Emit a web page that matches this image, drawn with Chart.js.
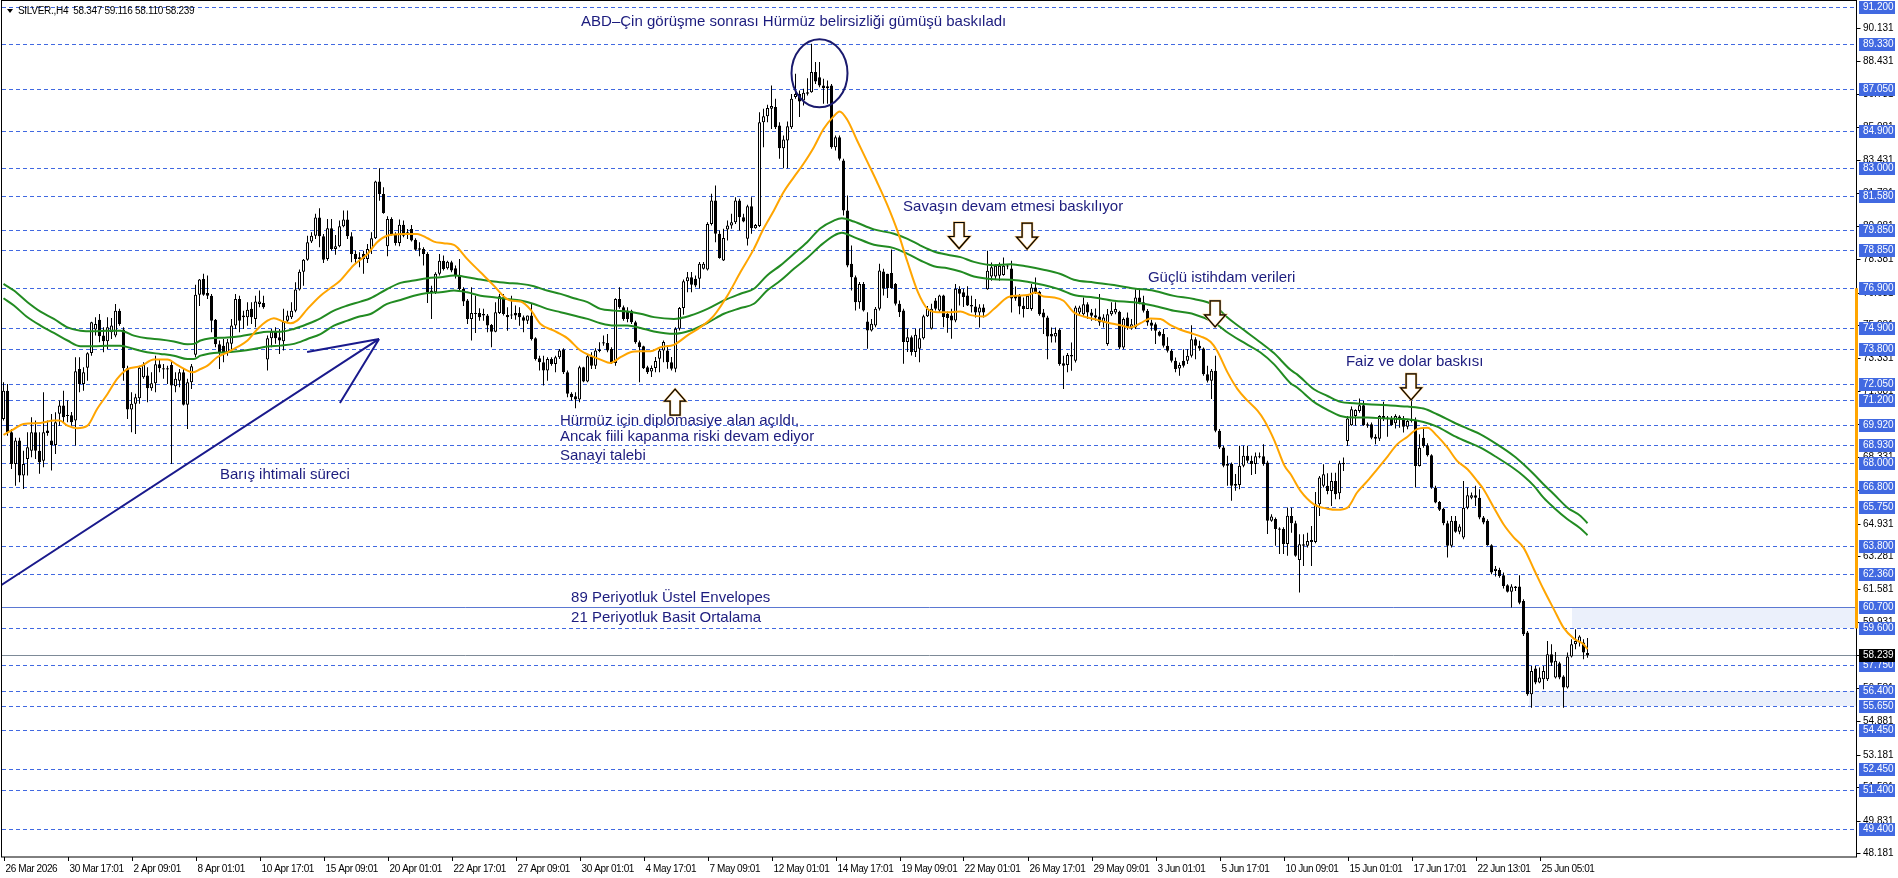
<!DOCTYPE html>
<html>
<head>
<meta charset="utf-8">
<script src="https://cdn.jsdelivr.net/npm/chart.js@4.4.1/dist/chart.umd.min.js"></script>
<style>
  html, body { margin: 0; padding: 0; background: #fff; }
  #wrap { position: relative; width: 1898px; height: 878px; }
</style>
</head>
<body>
<div id="wrap"><canvas id="chart"></canvas></div>
<script>
// SILVER H4 - candles with SMA 21 and EMA 89 envelopes, marked levels and notes

// time axis labels, one every 16 bars
const timeLabels = ['26 Mar 2026', '30 Mar 17:01', '2 Apr 09:01', '8 Apr 01:01', '10 Apr 17:01',
    '15 Apr 09:01', '20 Apr 01:01', '22 Apr 17:01', '27 Apr 09:01', '30 Apr 01:01', '4 May 17:01',
    '7 May 09:01', '12 May 01:01', '14 May 17:01', '19 May 09:01', '22 May 01:01', '26 May 17:01',
    '29 May 09:01', '3 Jun 01:01', '5 Jun 17:01', '10 Jun 09:01', '15 Jun 01:01', '17 Jun 17:01',
    '22 Jun 13:01', '25 Jun 05:01'];

// open, high, low, close per H4 bar
const candles = [
    [70.25,72.12,70.17,71.69],[71.69,72.03,69.4,69.57],[69.57,69.74,67.71,67.96],[67.96,69.3,66.86,69.15],
    [69.15,69.3,67.03,67.37],[67.37,68.64,66.69,67.96],[68.22,69.57,67.37,68.81],[68.64,70.34,68.3,69.57],
    [69.57,70.17,68.22,68.64],[68.64,69.57,67.46,68.05],[68.13,71.61,67.8,69.57],[69.66,70.17,69.4,69.54],
    [69.15,70.5,67.63,68.93],[68.93,70.59,68.47,70.08],[70.51,71.19,69.91,70.93],[70.93,71.69,70.08,70.34],
    [70.44,71.19,70.08,70.4],[70.44,70.6,69.9,70.08],[70.17,73.39,68.9,72.68],[72.79,73.39,71.61,72.03],
    [72.03,72.88,71.69,72.62],[72.86,73.64,72.2,73.59],[73.61,75.2,73.47,75.17],[74.8,75.42,74.49,75.08],
    [75.29,75.59,74.15,74.46],[74.49,74.91,73.64,74.2],[74.2,75.42,73.81,74.91],[74.66,75.39,74.32,75.0],
    [74.49,76.1,74.4,75.76],[75.76,75.85,74.99,75.08],[74.8,74.91,72.2,72.83],[72.83,72.96,70.25,70.73],
    [70.73,71.61,69.57,71.02],[71.02,71.53,69.49,71.36],[71.3,72.96,71.02,72.86],[72.37,73.13,72.29,72.99],
    [72.46,72.88,71.1,71.81],[71.81,72.62,71.69,72.07],[72.07,73.47,71.61,73.03],[73.03,73.3,72.62,72.83],
    [72.76,73.05,72.29,72.83],[72.83,72.96,72.03,72.76],[73.0,73.22,67.96,71.95],[71.92,72.62,71.61,72.29],
    [72.2,72.79,71.86,72.62],[72.62,72.79,70.93,70.98],[70.98,72.29,69.74,72.12],[72.12,73.05,71.78,72.93],
    [73.51,77.08,73.39,76.57],[76.57,77.37,76.0,77.34],[77.37,77.63,76.52,76.57],[76.66,77.54,76.35,76.52],
    [76.52,76.61,74.66,75.25],[75.29,75.34,73.9,74.05],[74.05,74.24,72.79,73.64],[73.98,74.32,73.13,73.64],
    [73.64,74.32,73.47,74.15],[74.07,75.34,73.64,75.0],[75.0,76.61,74.83,76.35],[76.35,76.52,74.66,75.25],
    [75.42,75.76,74.83,75.51],[75.42,76.19,74.99,75.8],[75.85,76.19,75.08,75.42],[75.34,76.52,74.91,76.22],
    [76.1,76.78,75.93,76.22],[76.15,76.52,75.85,75.93],[73.27,74.49,72.71,74.35],[74.35,74.83,73.9,74.69],
    [74.69,74.91,74.07,74.35],[74.4,74.83,73.56,74.24],[74.2,75.85,73.73,75.2],[75.25,75.76,75.17,75.51],
    [75.42,76.19,75.34,75.76],[75.76,77.2,75.68,76.83],[76.83,77.85,76.78,77.74],[77.74,78.39,77.03,78.35],
    [78.35,79.57,78.3,79.24],[79.27,79.74,79.2,79.57],[79.57,80.68,79.4,80.5],[80.5,80.96,78.98,79.54],
    [79.54,79.66,78.18,78.35],[78.39,80.42,78.3,79.95],[79.95,80.42,78.81,78.9],[78.9,79.6,78.6,79.03],
    [79.03,80.34,78.98,80.05],[80.05,80.85,80.0,80.39],[80.39,80.85,79.4,79.54],[79.54,79.74,78.22,78.64],
    [78.64,78.81,78.18,78.39],[78.47,78.73,77.96,78.39],[78.64,78.81,77.63,78.39],[78.39,79.15,78.18,78.9],
    [78.9,79.74,78.64,79.44],[79.44,82.37,79.4,82.32],[82.32,83.0,81.35,81.69],[81.69,82.03,80.68,80.73],
    [79.03,80.56,78.52,80.42],[80.42,80.51,79.57,79.61],[79.61,79.74,79.07,79.2],[79.2,80.39,79.03,80.13],
    [80.13,80.34,79.49,79.57],[79.74,79.91,79.4,79.66],[79.91,80.12,79.27,79.32],[79.37,79.44,78.81,78.86],
    [78.93,79.24,78.52,78.86],[78.9,78.98,78.05,78.64],[78.64,78.73,76.15,76.69],[76.78,77.03,75.34,76.66],
    [76.69,77.71,76.61,77.63],[77.63,78.64,77.54,78.3],[78.3,78.56,77.8,77.88],[77.91,78.3,77.85,78.25],
    [78.22,78.3,77.71,77.8],[77.91,78.05,77.4,77.54],[77.54,78.39,76.78,76.86],[76.86,76.95,76.0,76.22],
    [76.27,76.35,75.08,75.34],[75.34,76.95,74.24,75.64],[75.64,76.52,74.62,75.59],[75.64,75.88,75.25,75.42],
    [75.51,75.85,75.25,75.59],[75.51,75.59,74.66,75.0],[75.03,75.08,73.9,74.69],[74.69,76.19,74.66,75.68],
    [75.64,76.61,75.59,76.49],[76.44,76.61,75.51,75.59],[75.54,75.93,74.74,75.42],[75.51,76.52,75.34,75.54],
    [75.64,76.02,75.3,75.51],[75.64,75.93,74.99,75.42],[75.42,75.51,74.66,75.25],[75.25,75.51,75.08,75.51],
    [75.51,76.1,74.24,74.32],[74.35,74.4,73.22,73.3],[73.34,73.47,72.71,73.13],[73.13,73.47,71.95,72.71],
    [72.71,73.39,72.2,73.3],[73.3,73.39,72.96,73.05],[73.05,73.47,72.62,73.39],[73.39,73.81,73.3,73.73],
    [73.78,73.85,72.54,72.62],[72.62,72.71,71.36,71.53],[71.53,71.61,71.19,71.36],[71.4,71.61,70.8,71.24],
    [71.24,72.96,71.1,72.88],[72.88,72.91,72.12,72.15],[72.15,73.56,72.12,73.44],[73.44,73.64,72.79,72.96],
    [72.96,73.85,72.79,73.73],[73.71,74.15,73.64,73.78],[74.15,74.49,73.98,74.09],[74.12,74.57,73.64,73.73],
    [73.81,73.9,73.05,73.1],[73.1,76.39,72.96,76.35],[76.35,76.95,75.85,75.93],[75.93,76.02,75.25,75.34],
    [75.76,75.93,75.17,75.34],[75.76,75.81,75.08,75.17],[75.17,75.25,74.07,74.15],[74.15,74.24,72.12,73.9],
    [73.95,73.98,72.79,72.83],[72.88,72.96,72.54,72.62],[72.67,72.97,72.38,72.84],[72.84,73.4,72.63,73.2],
    [73.31,73.82,72.63,73.73],[73.73,74.24,73.14,74.16],[73.73,73.99,72.8,73.14],[73.14,73.4,72.72,72.8],
    [72.8,74.92,72.63,74.84],[74.84,75.94,74.75,75.89],[75.89,77.34,75.55,77.26],[77.26,77.72,76.7,77.46],
    [77.46,77.72,76.7,77.07],[77.38,77.55,76.95,77.04],[77.38,78.23,76.87,78.14],[77.89,78.23,77.85,78.14],
    [77.85,80.26,77.8,80.17],[80.17,81.7,80.09,81.36],[81.36,82.12,79.24,79.67],[79.67,79.84,78.4,78.43],
    [78.31,79.92,78.28,79.45],[79.89,80.34,79.33,80.09],[80.09,80.68,79.92,80.26],[80.26,81.53,80.17,81.36],
    [81.36,81.45,79.84,80.51],[80.51,80.68,80.26,80.29],[79.41,81.14,79.07,81.07],[81.07,81.53,79.67,79.95],
    [79.95,80.17,79.92,80.12],[80.06,85.85,80.01,85.34],[85.34,86.02,84.07,85.65],[85.65,86.23,85.34,86.06],
    [86.02,87.21,85.0,86.16],[86.11,86.53,85.0,85.09],[85.18,85.34,83.48,84.02],[84.02,84.67,83.0,84.46],
    [84.41,85.38,83.0,85.14],[85.09,86.78,85.0,86.53],[86.62,87.8,86.53,86.78],[86.78,86.95,85.6,86.4],
    [86.45,87.04,86.19,86.84],[86.79,87.58,86.7,86.87],[86.87,89.33,86.84,87.89],[87.89,88.4,87.29,87.41],
    [87.63,88.4,87.12,87.21],[87.21,87.55,86.28,87.07],[87.07,87.46,86.28,87.17],[87.21,87.29,83.99,84.07],
    [84.07,84.67,83.9,84.58],[84.58,84.67,83.4,83.48],[83.4,83.48,80.6,80.85],[80.85,81.62,77.97,78.06],
    [78.14,79.07,76.78,77.46],[77.46,77.55,75.77,76.19],[76.19,77.21,75.85,77.12],[77.12,77.21,75.72,75.77],
    [75.21,75.68,73.82,74.75],[74.75,75.34,74.7,75.09],[75.0,75.94,74.92,75.85],[75.85,78.14,75.77,77.8],
    [77.75,77.89,76.53,76.87],[77.63,77.63,76.4,76.9],[77.67,78.87,76.87,76.9],[77.12,77.17,76.02,76.11],
    [76.11,76.28,75.43,75.68],[75.77,75.85,73.06,74.16],[74.16,74.84,73.65,74.41],[74.41,74.5,73.48,73.65],
    [73.65,74.84,73.4,74.53],[73.82,74.84,73.14,74.36],[74.36,75.55,74.29,75.48],[75.48,75.99,75.43,75.85],
    [74.84,76.11,74.8,75.85],[76.28,76.4,75.77,75.85],[75.77,76.57,75.68,76.53],[76.53,76.57,74.92,75.43],
    [75.6,75.72,74.63,75.38],[75.51,75.85,74.33,75.26],[75.26,77.12,75.17,76.87],[76.87,77.0,76.02,76.62],
    [76.7,76.87,75.94,76.45],[76.53,77.0,75.99,76.02],[76.04,76.52,75.67,75.97],[75.97,76.35,75.41,75.67],
    [75.67,76.09,74.9,75.92],[75.92,76.09,75.41,75.67],[76.85,78.8,76.82,77.79],[77.5,78.21,77.28,77.96],
    [77.5,78.12,77.36,78.04],[77.53,78.21,77.28,78.04],[77.57,78.46,77.53,78.04],[78.04,78.12,77.87,78.01],
    [77.9,78.29,75.67,76.38],[76.52,76.99,76.26,76.38],[76.52,76.6,75.58,75.97],[76.01,76.43,75.41,75.84],
    [75.84,76.6,75.84,76.52],[75.84,77.11,75.75,76.94],[76.94,77.45,76.6,76.68],[76.72,76.77,75.5,75.58],
    [75.67,75.84,74.57,75.41],[75.41,75.5,73.29,74.45],[74.57,74.9,74.14,74.45],[74.45,74.9,74.14,74.62],
    [74.79,74.85,72.96,73.04],[73.09,73.46,71.77,72.96],[72.99,73.6,72.62,73.5],[73.5,74.14,72.7,73.43],
    [73.21,76.01,73.12,75.92],[75.67,76.01,75.5,75.92],[75.58,76.43,75.5,76.09],[76.09,76.18,75.33,75.67],
    [75.67,75.84,75.24,75.5],[75.53,75.87,75.24,75.41],[75.46,76.6,74.99,75.16],[75.16,75.58,74.9,75.41],
    [74.06,75.84,73.97,75.58],[75.58,76.18,75.5,75.75],[75.67,76.18,75.58,75.84],[75.7,75.75,73.8,73.89],
    [73.89,75.41,73.8,75.33],[75.41,75.67,74.79,74.9],[74.9,75.33,74.79,75.07],[74.9,76.85,74.82,76.43],
    [76.43,76.85,76.09,76.18],[76.18,76.52,75.67,75.75],[75.75,75.84,74.99,75.16],[75.16,75.29,74.74,74.99],
    [75.07,75.16,74.06,74.74],[74.68,74.74,74.45,74.48],[74.57,74.82,73.89,73.97],[73.97,74.4,73.63,73.72],
    [73.72,73.8,73.12,73.21],[73.21,73.38,72.62,72.79],[72.82,73.12,72.45,72.99],[73.21,73.8,72.87,72.96],
    [73.21,73.8,73.04,73.46],[73.46,75.02,73.38,74.31],[74.31,74.4,73.29,73.97],[73.97,74.23,73.72,73.84],
    [73.84,73.89,72.45,72.53],[72.53,72.96,72.11,72.19],[72.19,72.79,71.26,72.7],[72.7,73.46,69.57,69.65],
    [69.65,69.74,68.72,68.8],[68.8,68.89,67.79,67.87],[67.87,68.38,66.85,67.96],[67.96,68.04,66.09,66.85],
    [66.94,67.45,66.6,66.85],[66.89,68.89,66.68,67.87],[67.87,68.89,67.79,68.38],[68.38,68.89,68.0,68.13],
    [68.13,68.38,67.4,67.96],[67.96,68.55,67.45,68.35],[68.35,68.55,68.25,68.3],[68.35,68.97,67.87,67.96],
    [68.04,68.13,64.4,65.07],[65.07,65.41,65.02,65.29],[65.16,65.24,63.8,64.65],[64.68,64.74,63.38,64.62],
    [64.65,64.74,63.38,63.89],[63.89,65.75,63.3,65.33],[65.32,65.74,64.47,64.95],[64.95,65.07,63.25,63.29],
    [63.08,64.39,61.42,63.88],[63.88,64.39,62.78,63.8],[63.8,64.47,63.71,64.05],[63.99,64.81,62.78,64.1],
    [63.99,66.54,63.93,65.91],[65.91,67.35,65.32,67.27],[66.85,67.95,66.76,67.44],[66.85,67.49,66.42,66.59],
    [66.59,67.52,65.83,67.1],[67.1,67.52,66.17,66.42],[66.47,68.12,66.17,68.0],[67.95,68.29,67.61,68.03],
    [69.13,70.4,68.88,70.27],[69.93,70.88,69.9,70.74],[70.4,70.74,69.9,70.71],[70.66,71.29,70.57,70.95],
    [70.95,71.17,69.9,69.93],[69.98,70.07,69.81,69.9],[69.98,70.07,69.22,69.3],[69.35,69.47,68.96,69.25],
    [69.25,70.44,69.13,70.4],[70.4,71.12,70.15,70.24],[70.32,70.4,69.35,70.24],[70.27,70.4,69.9,69.93],
    [70.03,70.49,69.76,70.4],[70.27,70.44,69.81,70.37],[70.27,70.4,69.56,69.86],[69.86,70.24,69.73,70.15],
    [70.24,71.29,70.07,70.15],[70.2,70.32,66.76,67.86],[67.86,69.47,67.83,68.79],[69.3,69.81,68.79,68.88],
    [68.91,69.02,68.34,68.4],[68.4,68.46,66.7,66.76],[66.76,66.85,65.96,66.0],[66.03,66.08,65.57,65.63],
    [65.69,65.74,64.85,64.95],[64.95,65.07,63.2,63.8],[63.8,65.32,63.71,65.07],[65.07,65.32,64.47,64.51],
    [64.51,64.9,64.39,64.78],[64.22,67.1,64.13,65.74],[65.74,66.76,65.66,66.37],[66.25,66.51,66.17,66.37],
    [66.37,66.85,65.83,66.25],[66.25,66.68,65.15,65.24],[65.24,65.32,64.9,64.98],[65.07,65.15,63.8,63.83],
    [63.83,63.88,62.35,62.44],[62.52,62.78,62.24,62.64],[62.57,62.69,62.18,62.27],[62.3,62.44,61.63,61.76],
    [61.79,61.85,61.42,61.46],[61.46,61.85,60.66,61.73],[61.73,61.76,61.5,61.66],[61.73,62.3,60.83,60.91],
    [61.0,61.08,59.22,59.3],[59.39,59.47,56.17,56.25],[56.25,57.69,55.57,57.44],[57.56,57.69,56.76,56.85],
    [56.85,57.61,56.81,57.1],[57.02,57.69,56.51,57.44],[57.02,58.96,56.93,58.29],[58.29,58.79,57.69,57.86],
    [57.1,58.4,57.05,57.95],[57.83,57.9,57.02,57.1],[57.15,57.22,55.57,56.59],[56.59,58.37,56.54,58.17],
    [58.17,59.05,58.12,58.8],[58.8,59.56,58.54,58.96],[58.88,59.25,58.68,59.19],[58.88,59.05,58.03,58.37],
    [58.347,59.116,58.11,58.239]
];

// [bar, value]
const sma21 = [[0,69.44],[2.6,69.74],[5,70.0],[9.25,70.05],[12.6,70.17],[14,70.17],[16,69.91],[18.4,69.78],
    [21,69.91],[23.4,70.76],[26,71.52],[28.4,72.29],[31,72.79],[34.25,72.93],[37.6,73.27],[41,73.27],
    [43.4,73.0],[46,72.71],[47.2,72.62],[49.25,72.79],[51,72.96],[53.4,73.39],[56,73.64],[58.4,73.9],
    [61,74.24],[63.4,74.8],[66,75.25],[67.6,75.37],[70,75.2],[71.75,75.12],[73.4,75.25],[76,75.85],
    [79.25,76.52],[81.75,76.91],[84,77.25],[87.6,78.08],[91,78.64],[93.4,79.24],[95.9,79.57],[100,79.66],
    [103.4,79.66],[106,79.44],[107.6,79.27],[110,79.19],[112.6,79.1],[113.4,78.98],[115.9,78.39],
    [119.25,77.71],[122.6,77.03],[125,76.49],[126.75,76.27],[129.25,76.22],[131.75,75.81],[134.25,75.08],
    [137.6,74.74],[141,74.35],[144.25,73.73],[146.75,73.47],[149.25,73.27],[151.75,73.1],[154.25,73.39],
    [156.75,73.64],[159.25,73.69],[161.75,73.69],[164.25,73.9],[167.6,74.02],[171,74.5],[174.25,74.92],
    [177.6,75.51],[181,76.53],[184.25,77.72],[187.6,78.9],[190,79.92],[192.6,80.85],[195,81.78],
    [197.6,82.55],[200,83.23],[202.6,84.07],[205,85.0],[207.6,85.65],[209,85.89],[210.9,85.48],
    [213.4,84.41],[216,83.31],[218.4,82.29],[221,81.11],[223.6,79.75],[226,78.23],[228.6,76.7],
    [231,75.85],[233.6,75.68],[236.9,75.68],[239.25,75.72],[241.75,75.53],[245,75.46],[247.6,75.84],
    [251,76.43],[253.4,76.52],[256,76.55],[258,76.68],[260,76.48],[262.6,76.43],[265,76.26],[267.6,75.67],
    [270,75.46],[272.6,75.33],[275.9,75.16],[279.25,75.02],[281.75,74.9],[284.25,75.12],[286.75,75.36],
    [289.25,75.33],[291.75,75.02],[294.25,74.79],[296.75,74.62],[299.25,74.45],[301.75,74.18],
    [303.4,73.72],[306,72.62],[308.5,71.77],[311,71.18],[313.5,70.67],[315.25,70.16],[317.75,69.14],
    [320.25,67.87],[321.75,67.45],[324.25,66.59],[327.6,65.91],[331,65.69],[333.4,65.63],[336,65.74],
    [338.4,66.51],[341,67.1],[343.4,67.69],[346,68.34],[348.4,68.96],[351,69.35],[353.4,69.73],[356,69.81],
    [358.4,69.39],[361,68.79],[363.4,68.12],[366,67.69],[368.4,67.1],[370,66.68],[372.6,65.74],[375,64.9],
    [377.6,64.22],[380,63.71],[382.6,62.61],[385,61.59],[387.6,60.57],[390,59.64],[392.6,59.08],
    [395,58.8],[396,58.54]];

const envUpper = [[0,77.12],[2.6,76.78],[6,76.19],[9.25,75.71],[12.6,75.34],[16,74.91],[19.25,74.74],
    [22.6,74.71],[26,74.74],[29.25,74.74],[32.6,74.49],[35.9,74.35],[39.25,74.29],[42.6,74.19],[46,74.05],
    [47.6,74.07],[49.25,74.24],[51.75,74.35],[55.9,74.39],[59.25,74.46],[62.6,74.58],[66,74.69],
    [69.25,74.69],[72.6,74.83],[76,75.08],[79.25,75.37],[82.6,75.76],[86,76.02],[89.25,76.22],
    [91.75,76.39],[95.9,76.86],[99.25,77.17],[102.6,77.29],[106,77.41],[109.25,77.46],[112.6,77.54],
    [115.9,77.46],[119.25,77.34],[122.6,77.24],[126,77.17],[129.25,77.12],[132.6,77.0],[135.9,76.78],
    [139.25,76.61],[142.6,76.39],[146,76.19],[149.25,75.85],[152.6,75.76],[156,75.71],[159.25,75.6],
    [162.6,75.43],[167.6,75.34],[171.75,75.51],[176,75.85],[180.1,76.28],[184.25,76.62],[187.6,76.87],
    [190.9,77.55],[194.25,78.06],[197.6,78.65],[200.9,79.24],[204.25,79.95],[207.6,80.34],[209.6,80.46],
    [212.6,80.29],[217.6,79.89],[222.6,79.67],[226,79.41],[229.25,79.07],[232.6,78.77],[236,78.6],
    [239.25,78.48],[242.6,78.24],[247.6,78.07],[251.75,78.12],[256,78.0],[260,77.84],[264.25,77.62],
    [267.6,77.33],[272.6,77.19],[277.6,77.06],[282.6,76.89],[287.6,76.77],[292.6,76.51],[297.6,76.35],
    [302.6,76.04],[306,75.41],[309.25,74.9],[314.25,74.14],[317.6,73.6],[321.75,72.75],[323.4,72.52],
    [327.6,71.76],[331,71.42],[334.25,71.12],[337.6,71.05],[341,71.0],[346,70.95],[351,70.88],[355,70.78],
    [358.4,70.49],[362.6,70.07],[366,69.76],[369.25,69.47],[373.4,68.96],[377.6,68.37],[380,67.95],
    [382.6,67.44],[385,66.93],[387.6,66.42],[391,65.74],[394.25,65.32],[396,64.95]];

const envLower = [[0,76.39],[2.6,76.02],[6,75.42],[9.25,75.0],[12.6,74.63],[16,74.24],[19.25,73.95],
    [22.6,73.95],[26,73.98],[29.25,73.98],[32.6,73.81],[35.9,73.64],[39.25,73.56],[42.6,73.47],[46,73.3],
    [47.6,73.3],[49.25,73.47],[52.6,73.61],[55.9,73.64],[59.25,73.71],[62.6,73.81],[66,73.93],
    [69.25,73.98],[72.6,74.07],[76,74.32],[79.25,74.57],[82.6,75.0],[86,75.25],[89.25,75.47],
    [91.75,75.59],[95.9,76.1],[99.25,76.3],[102.6,76.52],[106,76.66],[109.25,76.69],[112.6,76.78],
    [115.9,76.69],[119.25,76.52],[122.6,76.44],[126,76.35],[129.25,76.27],[132.6,76.1],[135.9,75.85],
    [139.25,75.68],[142.6,75.51],[146,75.34],[149.25,75.12],[152.6,75.0],[156,75.0],[159.25,74.88],
    [162.6,74.7],[167.6,74.58],[171.75,74.75],[176,75.14],[180.1,75.6],[184.25,75.89],[187.6,76.11],
    [190.9,76.78],[194.25,77.29],[197.6,77.89],[200.9,78.43],[204.25,79.07],[207.6,79.58],[209.6,79.72],
    [212.6,79.5],[217.6,79.11],[222.6,78.94],[226,78.65],[229.25,78.31],[232.6,78.02],[236,77.92],
    [239.25,77.75],[242.6,77.5],[247.6,77.36],[251.75,77.33],[256,77.23],[260,77.06],[264.25,76.82],
    [267.6,76.55],[272.6,76.43],[277.6,76.26],[282.6,76.18],[287.6,76.01],[292.6,75.75],[297.6,75.58],
    [302.6,75.16],[306,74.65],[309.25,74.23],[314.25,73.63],[317.6,73.04],[321.75,72.07],[323.4,71.85],
    [327.6,71.12],[331,70.71],[334.25,70.4],[337.6,70.32],[341,70.32],[346,70.27],[351,70.24],[355,70.1],
    [358.4,69.86],[362.6,69.39],[366,69.08],[369.25,68.79],[373.4,68.29],[377.6,67.73],[380,67.35],
    [382.6,66.85],[385,66.25],[387.6,65.74],[391,65.15],[394.25,64.68],[396,64.34]];

// horizontal levels
const levels = [91.2, 89.33, 87.05, 84.9, 83.0, 81.58, 79.85, 78.85, 76.9, 74.9, 73.8, 72.05, 71.2,
    69.92, 68.93, 68.0, 66.8, 65.75, 63.8, 62.36, 59.6, 57.75, 56.4, 55.65, 54.45, 52.45, 51.4, 49.4];
const solidLevel = 60.7;
const lastPrice = 58.239;
const priceTicks = [90.131, 88.431, 86.781, 85.081, 83.431, 81.731, 80.081, 78.381, 76.681, 75.031,
    73.331, 71.681, 69.981, 68.331, 66.631, 64.931, 63.281, 61.581, 59.931, 58.231, 56.581, 54.881,
    53.181, 51.531, 49.831, 48.181];
// shaded zones: [from bar, top, bottom]
const zones = [[392, 60.7, 59.6], [381.25, 56.4, 55.65]];
const rangeMark = [76.9, 59.6];

const header = 'SILVER.,H4  58.347 59.116 58.110 58.239';
const notes = [
    ['ABD\u2013Çin görüşme sonrası Hürmüz belirsizliği gümüşü baskıladı', 144.4, 90.44],
    ['Savaşın devam etmesi baskılıyor', 224.9, 81.03],
    ['Güçlü istihdam verileri', 286.1, 77.42],
    ['Faiz ve dolar baskısı', 335.6, 73.15],
    ['Hürmüz için diplomasiye alan açıldı,', 139.1, 70.15],
    ['Ancak fiili kapanma riski devam ediyor', 139.1, 69.33],
    ['Sanayi talebi', 139.1, 68.37],
    ['Barış ihtimali süreci', 54.1, 67.4],
    ['89 Periyotluk Üstel Envelopes', 141.9, 61.15],
    ['21 Periyotluk Basit Ortalama', 141.9, 60.13]
];
// hollow arrows, [bar, price] of the tip
const downArrows = [[238.9, 78.92], [255.9, 78.89], [302.9, 74.93], [351.9, 71.22]];
const upArrows = [[167.9, 71.77]];
// trend arrow: tail, tip, two barbs
const trendArrow = [[-0.9, 61.76], [93.9, 74.32], [75.9, 73.66], [84.1, 71.06]];
const ring = [204, 87.83];

const NAVY = '#1c1c7e';
const AXIS_FONT = '10px "Liberation Sans", Arial, sans-serif';

const px = (chart, b) => chart.scales.x.getPixelForValue(b);
const py = (chart, v) => chart.scales.y.getPixelForValue(v);
const crisp = v => Math.round(v) + 0.5;

const backdrop = {
    id: 'backdrop',
    beforeDatasetsDraw(chart) {
        const {ctx, chartArea: a} = chart;
        ctx.save();
        ctx.beginPath();
        ctx.rect(a.left, a.top, a.right - a.left, a.bottom - a.top);
        ctx.clip();

        ctx.fillStyle = '#ebf0fb';
        zones.forEach(([b, hi, lo]) => {
            const x0 = Math.round(px(chart, b));
            const y0 = Math.round(py(chart, hi));
            const y1 = Math.round(py(chart, lo));
            ctx.fillRect(x0, y0, a.right - x0, y1 - y0);
        });

        ctx.lineWidth = 1;
        ctx.strokeStyle = '#4169e1';
        ctx.setLineDash([4, 3]);
        levels.forEach(v => {
            const y = crisp(py(chart, v));
            ctx.beginPath();
            ctx.moveTo(a.left, y);
            ctx.lineTo(a.right, y);
            ctx.stroke();
        });
        ctx.setLineDash([]);

        ctx.strokeStyle = '#5b78d2';
        let y = crisp(py(chart, solidLevel));
        ctx.beginPath(); ctx.moveTo(a.left, y); ctx.lineTo(a.right, y); ctx.stroke();

        ctx.strokeStyle = '#7d8a97';
        y = crisp(py(chart, lastPrice));
        ctx.beginPath(); ctx.moveTo(a.left, y); ctx.lineTo(a.right, y); ctx.stroke();
        ctx.restore();
    }
};

function hollowArrow(ctx, tx, ty, dir) {
    // dir 1 = pointing down (tip at bottom), -1 = pointing up
    const h = 26, head = 12, shaft = 5, wing = 10.5;
    ctx.beginPath();
    ctx.moveTo(tx - shaft, ty - dir * h);
    ctx.lineTo(tx + shaft, ty - dir * h);
    ctx.lineTo(tx + shaft, ty - dir * head);
    ctx.lineTo(tx + wing, ty - dir * head);
    ctx.lineTo(tx, ty);
    ctx.lineTo(tx - wing, ty - dir * head);
    ctx.lineTo(tx - shaft, ty - dir * head);
    ctx.closePath();
    ctx.fillStyle = '#ffffff';
    ctx.fill();
    ctx.strokeStyle = '#f0b660';
    ctx.lineWidth = 2.2;
    ctx.stroke();
    ctx.strokeStyle = '#000000';
    ctx.lineWidth = 1.2;
    ctx.stroke();
}

const overlay = {
    id: 'overlay',
    afterDatasetsDraw(chart) {
        const {ctx, chartArea: a} = chart;
        ctx.save();
        ctx.beginPath();
        ctx.rect(a.left, a.top, a.right - a.left, a.bottom - a.top);
        ctx.clip();

        // trend arrow
        const [tail, tip, b1, b2] = trendArrow.map(p => [px(chart, p[0]), py(chart, p[1])]);
        ctx.strokeStyle = '#1a1a8c';
        ctx.lineWidth = 2;
        ctx.beginPath();
        ctx.moveTo(tail[0], tail[1]); ctx.lineTo(tip[0], tip[1]);
        ctx.moveTo(b1[0], b1[1]); ctx.lineTo(tip[0], tip[1]);
        ctx.moveTo(b2[0], b2[1]); ctx.lineTo(tip[0], tip[1]);
        ctx.stroke();

        // ring around the top
        ctx.strokeStyle = '#1a1a6e';
        ctx.lineWidth = 2;
        ctx.beginPath();
        ctx.ellipse(px(chart, ring[0]), py(chart, ring[1]), 28, 34, 0, 0, Math.PI * 2);
        ctx.stroke();

        downArrows.forEach(p => hollowArrow(ctx, px(chart, p[0]), py(chart, p[1]), 1));
        upArrows.forEach(p => hollowArrow(ctx, px(chart, p[0]), py(chart, p[1]), -1));

        // notes
        ctx.font = '15px "Liberation Sans", Arial, sans-serif';
        ctx.fillStyle = NAVY;
        ctx.textAlign = 'left';
        ctx.textBaseline = 'middle';
        notes.forEach(([t, b, v]) => ctx.fillText(t, px(chart, b), py(chart, v)));

        // symbol header
        ctx.fillStyle = '#000';
        ctx.beginPath();
        ctx.moveTo(7, 9); ctx.lineTo(13, 9); ctx.lineTo(10, 13); ctx.closePath();
        ctx.fill();
        ctx.font = AXIS_FONT;
        ctx.letterSpacing = '-0.3px';
        ctx.fillText(header, 18, 11);
        ctx.letterSpacing = '0px';
        ctx.restore();
    },
    afterDraw(chart) {
        const {ctx, chartArea: a} = chart;
        ctx.save();
        // frame
        ctx.strokeStyle = '#000';
        ctx.lineWidth = 1;
        ctx.strokeRect(1.5, 0.5, a.right - 1.5 - 0.5, a.bottom - 0.5);

        ctx.font = AXIS_FONT;
        ctx.textBaseline = 'middle';
        ctx.textAlign = 'left';
        const axisX = a.right - 0.5;

        // automatic price ticks
        ctx.fillStyle = '#000';
        priceTicks.forEach(v => {
            const y = crisp(py(chart, v));
            ctx.beginPath(); ctx.moveTo(axisX, y); ctx.lineTo(axisX + 4, y); ctx.stroke();
            ctx.fillText(v.toFixed(3), a.right + 6, y);
        });

        // range mark along the axis
        ctx.fillStyle = '#ffa500';
        const r0 = py(chart, rangeMark[0]), r1 = py(chart, rangeMark[1]);
        ctx.fillRect(a.right - 2, r0, 3, r1 - r0);

        // level labels
        const tag = (v, bg) => {
            const y = Math.round(py(chart, v));
            ctx.fillStyle = bg;
            ctx.fillRect(a.right + 2, y - 6, 36, 13);
            ctx.fillStyle = '#fff';
            ctx.fillText(v.toFixed(3), a.right + 6, y + 0.5);
        };
        levels.concat([solidLevel]).forEach(v => tag(v, '#4169e1'));
        tag(lastPrice, '#000');

        // time axis
        ctx.strokeStyle = '#000';
        ctx.fillStyle = '#000';
        ctx.letterSpacing = '-0.4px';
        timeLabels.forEach((t, i) => {
            const x = crisp(px(chart, i * 16));
            ctx.beginPath(); ctx.moveTo(x, a.bottom); ctx.lineTo(x, a.bottom + 4); ctx.stroke();
            ctx.fillText(t, x + 1, a.bottom + 12);
        });
        ctx.letterSpacing = '0px';
        ctx.restore();
    }
};

const bodyData = candles.map((c, i) => ({ x: i, y: [c[0], c[3]] }));
const wickData = candles.map((c, i) => ({ x: i, y: [c[2], c[1]] }));
const bodyFill = candles.map(c => (c[3] >= c[0] ? '#ffffff' : '#000000'));
const toPoints = arr => arr.map(p => ({ x: p[0], y: p[1] }));

new Chart(document.getElementById('chart').getContext('2d'), {
    type: 'bar',
    data: {
        datasets: [
            {
                type: 'line', label: 'SMA 21', data: toPoints(sma21),
                borderColor: '#ffa500', borderWidth: 2, pointRadius: 0,
                cubicInterpolationMode: 'monotone', order: 0
            },
            {
                type: 'line', label: 'EMA 89 upper', data: toPoints(envUpper),
                borderColor: '#228b22', borderWidth: 2, pointRadius: 0,
                cubicInterpolationMode: 'monotone', order: 0
            },
            {
                type: 'line', label: 'EMA 89 lower', data: toPoints(envLower),
                borderColor: '#228b22', borderWidth: 2, pointRadius: 0,
                cubicInterpolationMode: 'monotone', order: 0
            },
            {
                label: 'body', data: bodyData, backgroundColor: bodyFill,
                borderColor: '#000', borderWidth: 1, borderSkipped: false,
                barThickness: 3, minBarLength: 1, grouped: false, inflateAmount: 0, order: 1
            },
            {
                label: 'wick', data: wickData, backgroundColor: '#000', borderWidth: 0,
                barThickness: 1, grouped: false, inflateAmount: 0, order: 2
            }
        ]
    },
    options: {
        responsive: true,
        maintainAspectRatio: false,
        animation: false,
        events: [],
        layout: { padding: { left: 2, right: 41, top: 1, bottom: 21 } },
        plugins: { legend: { display: false }, tooltip: { enabled: false } },
        scales: {
            x: { type: 'linear', min: -0.375, max: 463.375, offset: false, display: false },
            y: { type: 'linear', min: 47.976, max: 91.505, display: false }
        }
    },
    plugins: [backdrop, overlay]
});
</script>
</body>
</html>
